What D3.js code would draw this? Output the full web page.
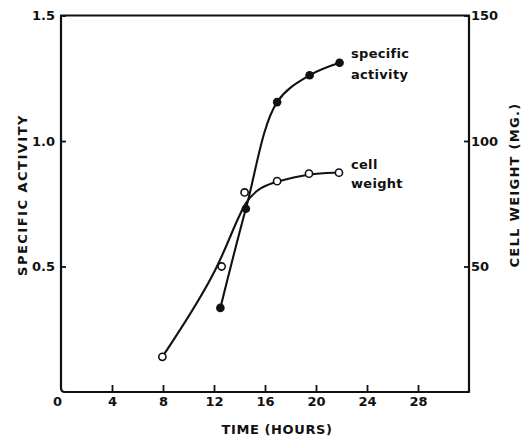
<!DOCTYPE html>
<html>
<head>
<meta charset="utf-8">
<script src="https://cdn.jsdelivr.net/npm/d3@7"></script>
<style>
  html, body { margin: 0; padding: 0; background: #fff; }
  svg { display: block; }
  text { font-family: "DejaVu Sans", sans-serif; font-weight: bold; fill: #111; }
</style>
</head>
<body>
<script>
// ---- data ----
const xTicks = [0, 4, 8, 12, 16, 20, 24, 28];
const leftTicks = [0.5, 1.0, 1.5];
const rightTicks = [50, 100, 150];

// specific activity (filled circles), left axis
const saHours  = [12.5, 14.5, 16.95, 19.5, 21.85];
const saValues = [0.335, 0.73, 1.155, 1.262, 1.312];

// cell weight (open circles), right axis, mg
const cwHours  = [7.95, 12.6, 14.4, 16.95, 19.45, 21.8];
const cwValues = [14, 50, 79.5, 84, 87, 87.4];

const W = 528, H = 437;
const svg = d3.select("body").append("svg").attr("width", W).attr("height", H);

const x = d3.scaleLinear().domain([0, 32]).range([61, 469]);
const yL = d3.scaleLinear().domain([0, 1.5]).range([392, 15.5]);
const yR = d3.scaleLinear().domain([0, 150]).range([392, 15.5]);

const ink = "#111";

// frame with rounded bottom-left corner
const x0 = x(0), x1 = x(32), yb = yL(0), yt = yL(1.5), r = 4;
svg.append("path")
  .attr("d", `M${x0},${yt} L${x0},${yb - r} Q${x0},${yb} ${x0 + r},${yb} L${x1},${yb} L${x1},${yt} Z`)
  .attr("fill", "none").attr("stroke", ink).attr("stroke-width", 2.2)
  .attr("stroke-linejoin", "round");

function styleAxis(g) {
  g.select(".domain").remove();
  g.selectAll(".tick line").attr("stroke", ink).attr("stroke-width", 1.8);
  g.selectAll(".tick text").attr("font-size", 13).attr("fill", ink)
    .style("font-family", "'DejaVu Sans', sans-serif").style("font-weight", "bold");
}

// bottom axis
const gx = svg.append("g").attr("transform", `translate(0,${yb})`)
  .call(d3.axisBottom(x).tickValues(xTicks).tickSize(-7).tickPadding(5).tickFormat(d3.format("d")));
styleAxis(gx);
gx.selectAll(".tick").filter(d => d === 0).select("line").remove();
gx.selectAll(".tick").filter(d => d === 0).select("text").attr("dx", -4);

// left axis
const gl = svg.append("g").attr("transform", `translate(${x0},0)`)
  .call(d3.axisLeft(yL).tickValues(leftTicks).tickSize(-5).tickPadding(6).tickFormat(d3.format(".1f")));
styleAxis(gl);

// right axis
const gr = svg.append("g").attr("transform", `translate(${x1},0)`)
  .call(d3.axisRight(yR).tickValues(rightTicks).tickSize(-5).tickPadding(2).tickFormat(d3.format("d")));
styleAxis(gr);

// axis titles
svg.append("text").attr("x", 277).attr("y", 434).attr("text-anchor", "middle")
  .attr("font-size", 13).style("letter-spacing", "0.6px").text("TIME (HOURS)");
svg.append("text").attr("transform", "translate(27,195) rotate(-90)").attr("text-anchor", "middle")
  .attr("font-size", 13).style("letter-spacing", "1.5px").text("SPECIFIC ACTIVITY");
svg.append("text").attr("transform", "translate(519,185) rotate(-90)").attr("text-anchor", "middle")
  .attr("font-size", 13).style("letter-spacing", "1.3px").text("CELL WEIGHT (MG.)");

// curves (hand-drawn smooth fits in the original)
const saPts = saHours.map((h, i) => [x(h), yL(saValues[i])]);
const cwPts = cwHours.map((h, i) => [x(h), yR(cwValues[i])]);

svg.append("path").attr("d", d3.line().curve(d3.curveBasis)(cwPts)).attr("fill", "none")
  .attr("stroke", ink).attr("stroke-width", 2.1);
svg.append("path").attr("d", d3.line().curve(d3.curveCatmullRom.alpha(0.5))(saPts)).attr("fill", "none")
  .attr("stroke", ink).attr("stroke-width", 2.1);

// markers
svg.selectAll(".cw").data(cwPts).join("circle")
  .attr("cx", d => d[0]).attr("cy", d => d[1]).attr("r", 3.6)
  .attr("fill", "#fff").attr("stroke", ink).attr("stroke-width", 1.6);
svg.selectAll(".sa").data(saPts).join("circle")
  .attr("cx", d => d[0]).attr("cy", d => d[1]).attr("r", 4.3)
  .attr("fill", ink);

// series labels
const lab = [["specific", 58], ["activity", 79], ["cell", 169], ["weight", 188]];
svg.selectAll(".lab").data(lab).join("text")
  .attr("x", 351).attr("y", d => d[1]).attr("font-size", 13)
  .style("letter-spacing", "0.3px").text(d => d[0]);
</script>
</body>
</html>
